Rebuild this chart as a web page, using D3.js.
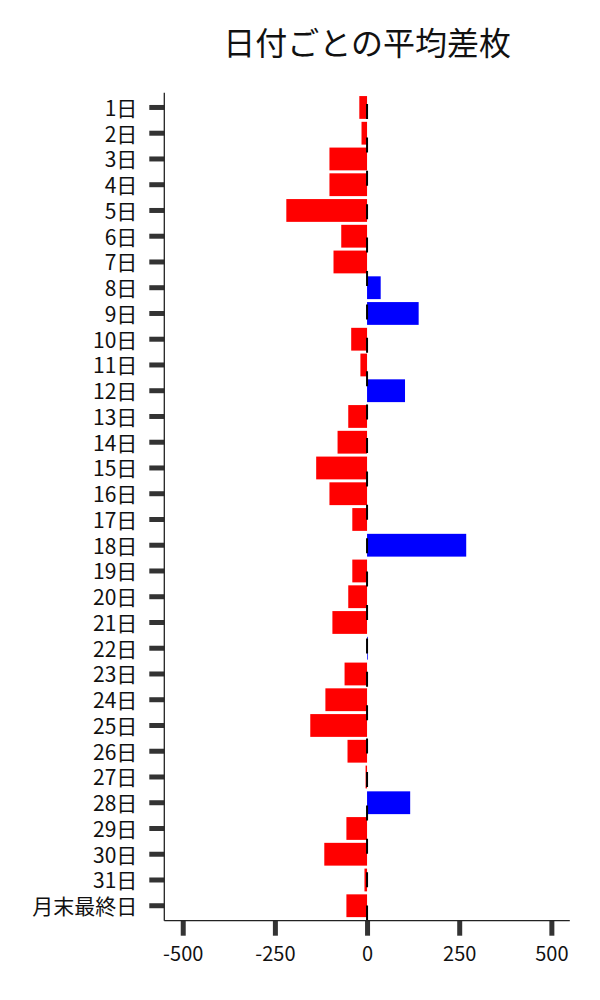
<!DOCTYPE html>
<html>
<head>
<meta charset="utf-8">
<script src="https://cdn.jsdelivr.net/npm/d3@7"></script>
<style>
  html, body { margin: 0; padding: 0; background: #fff; }
  svg { display: block; font-family: "Noto Sans CJK JP", "Noto Sans", sans-serif; }
</style>
</head>
<body>
<svg id="chart" width="600" height="1000"></svg>
<script>
const title = "日付ごとの平均差枚";
const categories = ["1日","2日","3日","4日","5日","6日","7日","8日","9日","10日","11日","12日","13日","14日","15日","16日","17日","18日","19日","20日","21日","22日","23日","24日","25日","26日","27日","28日","29日","30日","31日","月末最終日"];
const values = [-21,-15,-102,-102,-219,-70,-91,37,140,-43,-18,103,-51,-80,-138,-102,-40,269,-40,-51,-94,2,-61,-113,-154,-53,-4,117,-56,-116,-7,-56];
const xTicks = [-500,-250,0,250,500];

const svg = d3.select("#chart");
const plotLeft = 164.3, plotRight = 569.8, plotTop = 92.7, plotBottom = 920.7;

const x = d3.scaleLinear().domain([-550, 550]).range([plotLeft, plotRight]);
const y = d3.scaleBand().domain(categories).range([94.6, 918.6]).paddingInner(0.115).paddingOuter(0.057);

// bars
svg.append("g").selectAll("rect")
  .data(categories.map((c, i) => ({c, v: values[i]})))
  .join("rect")
  .attr("x", d => x(Math.min(0, d.v)))
  .attr("width", d => Math.abs(x(d.v) - x(0)))
  .attr("y", d => y(d.c))
  .attr("height", y.bandwidth())
  .attr("fill", d => d.v >= 0 ? "#0000ff" : "#ff0000");

// dashed zero line
svg.append("line")
  .attr("x1", x(0)).attr("x2", x(0))
  .attr("y1", plotTop).attr("y2", plotBottom)
  .attr("stroke", "#000").attr("stroke-width", 2)
  .attr("stroke-dasharray", "15,18.4")
  .attr("stroke-dashoffset", 22.1);

// y axis
const yAxis = svg.append("g").attr("transform", `translate(${plotLeft},0)`)
  .call(d3.axisLeft(y).tickSize(15).tickPadding(12));
yAxis.select(".domain").remove();
yAxis.selectAll(".tick line").attr("stroke", "#333").attr("stroke-width", 5);
yAxis.selectAll(".tick text").attr("font-size", 21).attr("fill", "#111")
  .attr("dy", "0.4em")
  .attr("font-family", "'Noto Sans CJK JP', sans-serif");

// x axis
const xAxis = svg.append("g").attr("transform", `translate(0,${plotBottom})`)
  .call(d3.axisBottom(x).tickValues(xTicks).tickFormat(d => String(d)).tickSize(15).tickPadding(11));
xAxis.select(".domain").remove();
xAxis.selectAll(".tick line").attr("stroke", "#333").attr("stroke-width", 5);
xAxis.selectAll(".tick text").attr("font-size", 20).attr("fill", "#111")
  .attr("font-family", "'Noto Sans CJK JP', sans-serif");

// spines
svg.append("line").attr("x1", plotLeft).attr("x2", plotLeft).attr("y1", plotTop).attr("y2", plotBottom)
  .attr("stroke", "#222").attr("stroke-width", 1.3);
svg.append("line").attr("x1", plotLeft).attr("x2", plotRight).attr("y1", plotBottom).attr("y2", plotBottom)
  .attr("stroke", "#222").attr("stroke-width", 1.3);

// title
svg.append("text")
  .attr("x", (plotLeft + plotRight) / 2).attr("y", 55)
  .attr("text-anchor", "middle")
  .attr("font-size", 32)
  .attr("fill", "#111")
  .text(title);
</script>
</body>
</html>
